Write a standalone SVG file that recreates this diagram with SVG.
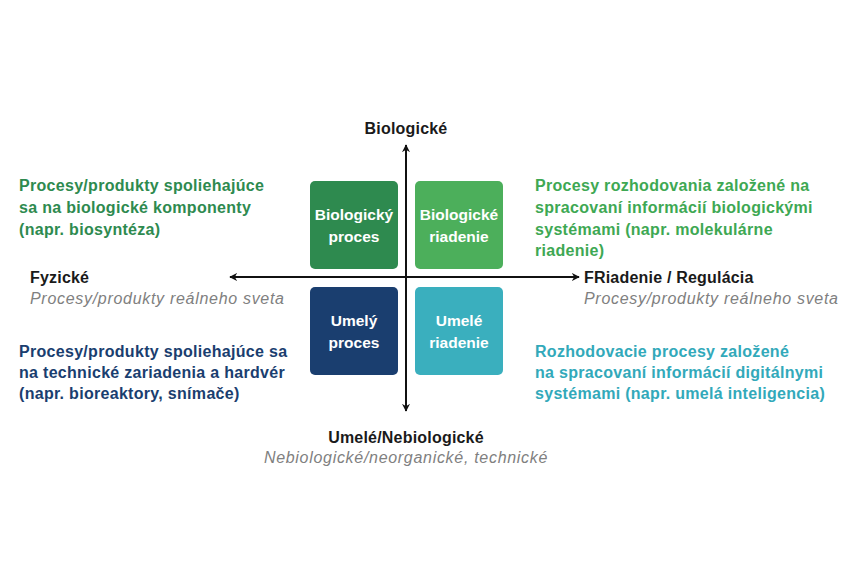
<svg xmlns="http://www.w3.org/2000/svg" width="850" height="574" viewBox="0 0 850 574">
<defs>
<style>
text{font-family:"Liberation Sans",Arial,sans-serif}
.box{stroke:none}
.bl{font-size:15.5px;font-weight:bold;fill:#ffffff;text-anchor:middle}
.ax{font-size:16px;font-weight:bold;fill:#1a1a1a;letter-spacing:0.2px}
.sub{font-size:16px;font-style:italic;fill:#808080;letter-spacing:0.7px}
.d{font-size:16px;font-weight:bold;letter-spacing:0.3px}
.axis{stroke:#111;stroke-width:2;fill:none}
</style>
<marker id="ah" viewBox="0 0 10 10" refX="9" refY="5" markerWidth="8" markerHeight="8" markerUnits="userSpaceOnUse" orient="auto">
<path d="M0,0 L10,5 L0,10 L3,5 Z" fill="#111"/>
</marker>
</defs>
<rect width="850" height="574" fill="#ffffff"/>
<g id="connectors">
<line class="axis" x1="406" y1="278" x2="406" y2="145" marker-end="url(#ah)"/>
<line class="axis" x1="406" y1="278" x2="406" y2="411" marker-end="url(#ah)"/>
<line class="axis" x1="406" y1="277" x2="230" y2="277" marker-end="url(#ah)"/>
<line class="axis" x1="406" y1="277" x2="579" y2="277" marker-end="url(#ah)"/>
</g>
<g id="bio-proces">
<rect class="box" x="310" y="181" width="88" height="88" rx="5" fill="#2e8a4f"/>
<text class="bl" x="354" y="220">Biologický</text>
<text class="bl" x="354" y="242">proces</text>
</g>
<g id="bio-riadenie">
<rect class="box" x="415" y="181" width="88" height="88" rx="5" fill="#4caf5b"/>
<text class="bl" x="459" y="220">Biologické</text>
<text class="bl" x="459" y="242">riadenie</text>
</g>
<g id="umely-proces">
<rect class="box" x="310" y="287" width="88" height="88" rx="5" fill="#1a3e6f"/>
<text class="bl" x="354" y="326">Umelý</text>
<text class="bl" x="354" y="348">proces</text>
</g>
<g id="umele-riadenie">
<rect class="box" x="415" y="287" width="88" height="88" rx="5" fill="#3aafbe"/>
<text class="bl" x="459" y="326">Umelé</text>
<text class="bl" x="459" y="348">riadenie</text>
</g>
<g id="axis-top">
<text class="ax" x="406" y="134" text-anchor="middle">Biologické</text>
</g>
<g id="axis-left">
<text class="ax" x="30" y="283">Fyzické</text>
<text class="sub" x="30" y="304">Procesy/produkty reálneho sveta</text>
</g>
<g id="axis-right">
<text class="ax" x="584" y="283">FRiadenie / Regulácia</text>
<text class="sub" x="584" y="304">Procesy/produkty reálneho sveta</text>
</g>
<g id="axis-bottom">
<text class="ax" x="406" y="443" text-anchor="middle">Umelé/Nebiologické</text>
<text class="sub" x="406" y="463" text-anchor="middle">Nebiologické/neorganické, technické</text>
</g>
<g id="desc-bio-proces">
<text class="d" fill="#2e8a4f" x="19" y="191">Procesy/produkty spoliehajúce</text>
<text class="d" fill="#2e8a4f" x="19" y="213">sa na biologické komponenty</text>
<text class="d" fill="#2e8a4f" x="19" y="235">(napr. biosyntéza)</text>
</g>
<g id="desc-bio-riadenie">
<text class="d" fill="#3ea853" x="535" y="191">Procesy rozhodovania založené na</text>
<text class="d" fill="#3ea853" x="535" y="213">spracovaní informácií biologickými</text>
<text class="d" fill="#3ea853" x="535" y="235">systémami (napr. molekulárne</text>
<text class="d" fill="#3ea853" x="535" y="256">riadenie)</text>
</g>
<g id="desc-umely-proces">
<text class="d" fill="#1a3e6f" x="19" y="357">Procesy/produkty spoliehajúce sa</text>
<text class="d" fill="#1a3e6f" x="19" y="378">na technické zariadenia a hardvér</text>
<text class="d" fill="#1a3e6f" x="19" y="399">(napr. bioreaktory, snímače)</text>
</g>
<g id="desc-umele-riadenie">
<text class="d" fill="#32a9ba" x="535" y="357">Rozhodovacie procesy založené</text>
<text class="d" fill="#32a9ba" x="535" y="378">na spracovaní informácií digitálnymi</text>
<text class="d" fill="#32a9ba" x="535" y="399">systémami (napr. umelá inteligencia)</text>
</g>
</svg>
